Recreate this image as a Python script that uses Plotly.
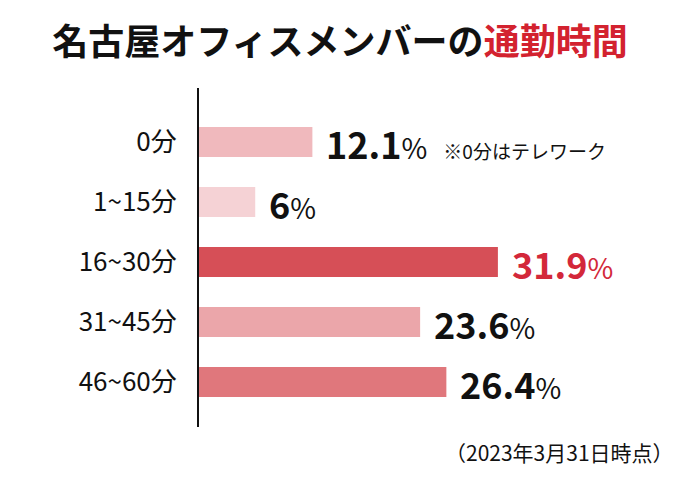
import plotly.graph_objects as go

# 通勤時間の区分と割合
categories = ["0分", "1~15分", "16~30分", "31~45分", "46~60分"]
values = [12.1, 6, 31.9, 23.6, 26.4]
value_labels = ["12.1", "6", "31.9", "23.6", "26.4"]
notes = ["※0分はテレワーク", "", "", "", ""]
bar_colors = ["#f0b9bd", "#f5d2d5", "#d64f57", "#eba6aa", "#e0777c"]
label_colors = ["#111111", "#111111", "#d3283a", "#111111", "#111111"]

FONT = "Noto Sans CJK JP"
RED = "#d3222f"

fig = go.Figure()
fig.add_trace(go.Bar(
    x=values, y=categories, orientation="h",
    marker=dict(color=bar_colors, line=dict(width=0)),
    hoverinfo="skip",
))

for cat, val, lab, note, col in zip(categories, values, value_labels, notes, label_colors):
    txt = f"<b>{lab}</b><span style='font-size:28px'>%</span>"
    if note:
        txt += f"&nbsp;&nbsp;<span style='font-size:19px;color:#111111'>{note}</span>"
    fig.add_annotation(
        x=val, y=cat, text=txt, showarrow=False,
        xanchor="left", yanchor="middle", xshift=12, yshift=-1,
        font=dict(family=FONT, size=36, color=col),
    )

fig.add_annotation(
    xref="paper", yref="paper", x=1.035, y=-0.074,
    text="（2023年3月31日時点）", showarrow=False,
    xanchor="right", yanchor="middle",
    font=dict(family=FONT, size=21, color="#111111"),
)

fig.update_layout(
    width=680, height=480,
    margin=dict(l=199, r=20, t=88, b=53),
    paper_bgcolor="white", plot_bgcolor="white",
    bargap=0.5, showlegend=False,
    title=dict(
        text=f"<b>名古屋オフィスメンバーの<span style='color:{RED}'>通勤時間</span></b>",
        x=0.5, xanchor="center", y=0.912, yanchor="middle",
        font=dict(family=FONT, size=36, color="#111111"),
    ),
)
fig.update_xaxes(range=[0, 49.2], visible=False, fixedrange=True)
fig.update_yaxes(
    categoryorder="array", categoryarray=categories,
    range=[4.75, -0.9], showline=True, linecolor="#111111", linewidth=2,
    showgrid=False, zeroline=False, ticks="", ticklabelstandoff=15,
    tickfont=dict(family=FONT, size=26, color="#111111"), fixedrange=True,
)

fig.write_html("out.html", config={"displayModeBar": False},
               post_script="document.body.style.margin='0';")
